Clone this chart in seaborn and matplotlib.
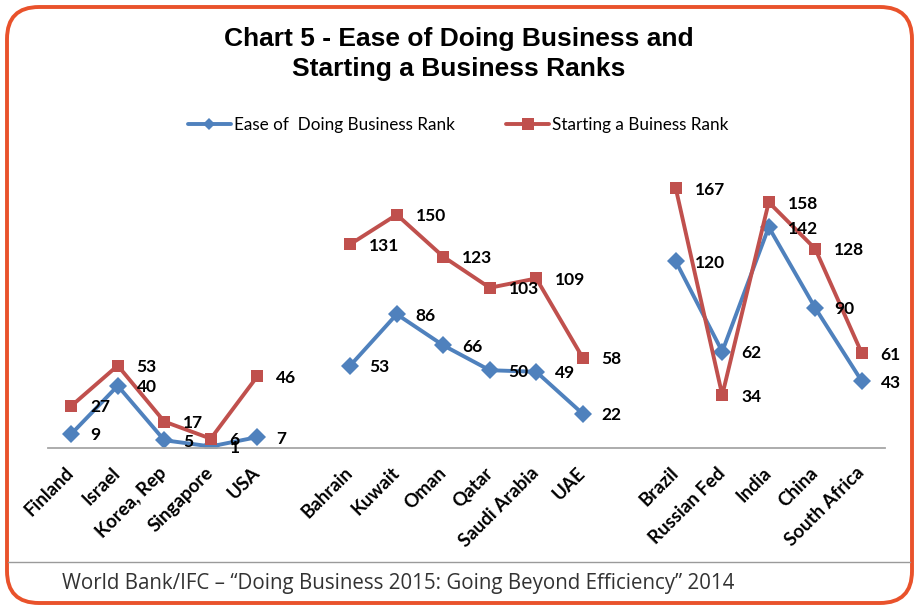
import numpy as np
import pandas as pd
import seaborn as sns
import matplotlib.pyplot as plt
from matplotlib.patches import FancyBboxPatch
from matplotlib.lines import Line2D

# country groups (a blank slot is left between groups)
groups = [
    ['Finland', 'Israel', 'Korea, Rep', 'Singapore', 'USA'],
    ['Bahrain', 'Kuwait', 'Oman', 'Qatar', 'Saudi Arabia', 'UAE'],
    ['Brazil', 'Russian Fed', 'India', 'China', 'South Africa'],
]
ease_rank = [9, 40, 5, 1, 7, 53, 86, 66, 50, 49, 22, 120, 62, 142, 90, 43]
start_rank = [27, 53, 17, 6, 46, 131, 150, 123, 103, 109, 58, 167, 34, 158, 128, 61]

ease_name = 'Ease of  Doing Business Rank'
start_name = 'Starting a Buiness Rank'
colors = {ease_name: '#4F81BD', start_name: '#C0504D'}

countries, pos, grp = [], [], []
for g, names in enumerate(groups):
    for n in names:
        countries.append(n)
        pos.append(len(pos) + g)
        grp.append(g)

df = pd.concat([
    pd.DataFrame({'country': countries, 'pos': pos, 'group': grp, 'rank': ease_rank, 'series': ease_name}),
    pd.DataFrame({'country': countries, 'pos': pos, 'group': grp, 'rank': start_rank, 'series': start_name}),
])

sns.set_theme(style='white')
plt.rcParams['font.family'] = ['Lato', 'DejaVu Sans']
plt.rcParams['text.color'] = 'black'
plt.rcParams['xtick.color'] = 'black'

fig = plt.figure(figsize=(9.17, 6.06), dpi=100)
ax = fig.add_axes([48/917, 1-448/606, 837/917, 280/606])

sns.lineplot(data=df, x='pos', y='rank', hue='series', style='series', units='group',
             estimator=None, sort=False, palette=colors,
             markers={ease_name: 'D', start_name: 's'}, dashes=False,
             hue_order=[ease_name, start_name],
             lw=2.8, markersize=9, markeredgewidth=0, legend=False, ax=ax)

# data labels
for _, r in df.iterrows():
    ax.annotate(str(r['rank']), (r['pos'], r['rank']), xytext=(13.5, -1),
                textcoords='offset points', ha='left', va='center',
                fontsize=12.5, fontweight='bold', color='black')

ax.set_xlim(-0.5, 17.5)
ax.set_ylim(0, 180)
ax.set_yticks([])
ax.set_xticks(pos)
ax.set_xticklabels(countries, rotation=45, ha='right', va='center',
                   rotation_mode='anchor', fontsize=13.5, fontweight='bold', color='black')
ax.tick_params(axis='x', length=0, pad=16)
ax.set_xlabel('')
ax.set_ylabel('')
for s in ['top', 'left', 'right']:
    ax.spines[s].set_visible(False)
ax.spines['bottom'].set_color('#A6A6A6')
ax.spines['bottom'].set_linewidth(1.3)
ax.patch.set_alpha(0)

# title
fig.text(0.5, 1-54/606, 'Chart 5 - Ease of Doing Business and\nStarting a Business Ranks',
         ha='center', va='center', fontsize=19, fontweight='bold', color='black',
         family='Liberation Sans', linespacing=1.35)

# legend
handles = [Line2D([], [], color=colors[ease_name], marker='D', lw=2.8, markersize=6, markeredgewidth=0),
           Line2D([], [], color=colors[start_name], marker='s', lw=2.8, markersize=8, markeredgewidth=0)]
fig.legend(handles, [ease_name, start_name], loc='center', bbox_to_anchor=(0.5, 1-125/606),
           ncol=2, frameon=False, fontsize=12.3, handlelength=2.5, columnspacing=3.0,
           handletextpad=0.2)

# footer
fig.add_artist(Line2D([8/917, 910/917], [1-562/606]*2, color='#9A9A9A', lw=1))
fig.text(62/917, 1-583/606, 'World Bank/IFC – “Doing Business 2015: Going Beyond Efficiency” 2014',
         ha='left', va='center', fontsize=14.8, family='Open Sans', color='#333333')

# rounded orange frame
frame = FancyBboxPatch((0.07, 0.03), 9.05, 5.96, boxstyle='round,pad=0,rounding_size=0.32',
                       transform=fig.dpi_scale_trans, fill=False, ec='#E9522B', lw=2.8)
fig.add_artist(frame)

fig.savefig('out.png', dpi=100)
